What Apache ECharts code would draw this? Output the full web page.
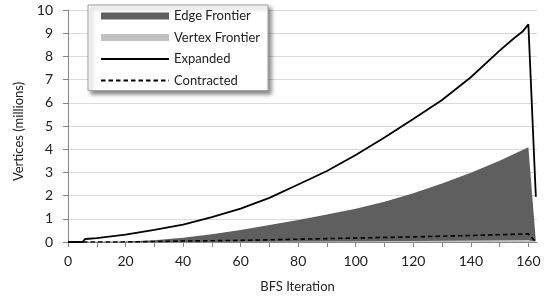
<!DOCTYPE html>
<html>
<head>
<meta charset="utf-8">
<script src="https://cdn.jsdelivr.net/npm/echarts@6/dist/echarts.min.js"></script>
<style>html,body{margin:0;padding:0;background:#fff}#c{width:550px;height:302px}</style>
</head>
<body>
<div id="c"></div>
<script>
// BFS iteration (x) and values in millions of vertices (y)
const edgeX = [0, 20, 30, 40, 50, 60, 70, 80, 90, 100, 110, 120, 130, 140, 150, 160, 162.6];
const edgeY = [0, 0.02, 0.08, 0.18, 0.33, 0.52, 0.73, 0.95, 1.18, 1.43, 1.74, 2.1, 2.52, 2.98, 3.5, 4.08, 0.03];

const vertexX = [0, 40, 60, 80, 100, 120, 140, 160, 162.6];
const vertexY = [0, 0, 0.01, 0.02, 0.03, 0.045, 0.065, 0.09, 0];

const expandedX = [0, 5, 6, 10, 20, 30, 40, 50, 60, 70, 80, 90, 100, 110, 120, 130, 140, 150, 155, 158, 160, 162.6];
const expandedY = [0, 0, 0.13, 0.17, 0.32, 0.52, 0.75, 1.07, 1.44, 1.9, 2.48, 3.06, 3.75, 4.5, 5.3, 6.12, 7.1, 8.25, 8.78, 9.07, 9.38, 1.95];

const contractedX = [0, 20, 40, 60, 80, 100, 120, 140, 160, 162.6];
const contractedY = [0, 0, 0.04, 0.07, 0.12, 0.17, 0.22, 0.28, 0.35, 0];

const xTickValues = [0, 10, 20, 30, 40, 50, 60, 70, 80, 90, 100, 110, 120, 130, 140, 150, 160];
const xLabelValues = [0, 20, 40, 60, 80, 100, 120, 140, 160];

const seriesNames = ['Edge Frontier', 'Vertex Frontier', 'Expanded', 'Contracted'];

function pairs(xs, ys) { return xs.map((x, i) => [x, ys[i]]); }

const FONT = 'Lato';
const hiddenSym = {color: 'rgba(0,0,0,0)', borderColor: 'rgba(0,0,0,0)', borderWidth: 0};
const chart = echarts.init(document.getElementById('c'), null, {renderer: 'canvas'});
chart.setOption({
  animation: false,
  backgroundColor: '#fff',
  textStyle: {fontFamily: FONT},
  grid: {left: 68, right: 13, top: 10, bottom: 60, containLabel: false},
  xAxis: {
    type: 'value', min: 0, max: 163,
    name: 'BFS Iteration', nameLocation: 'middle', nameGap: 38,
    nameTextStyle: {fontFamily: FONT, fontSize: 13, color: '#222', padding: [0, 10, 0, 0]},
    axisLine: {show: true, lineStyle: {color: '#868686', width: 1}},
    axisTick: {show: true, length: 5, lineStyle: {color: '#868686'}, customValues: xTickValues},
    axisLabel: {fontFamily: FONT, fontSize: 14, color: '#222', margin: 12, customValues: xLabelValues},
    splitLine: {show: false}
  },
  yAxis: {
    type: 'value', min: 0, max: 10, interval: 1,
    name: 'Vertices (millions)', nameLocation: 'middle', nameGap: 43,
    nameTextStyle: {fontFamily: FONT, fontSize: 13, color: '#222', padding: [0, 11, 0, 0]},
    axisLine: {show: true, lineStyle: {color: '#868686', width: 1}},
    axisTick: {show: true, length: 5, lineStyle: {color: '#868686'}},
    axisLabel: {fontFamily: FONT, fontSize: 14, color: '#222', margin: 15},
    splitLine: {show: true, lineStyle: {color: '#d9d9d9', width: 1}}
  },
  legend: {
    orient: 'vertical', left: 88, top: 5,
    padding: [4, 8, 3, 12],
    itemWidth: 68, itemHeight: 7, itemGap: 7.5,
    backgroundColor: '#fff', borderColor: '#a0a0a0', borderWidth: 1,
    shadowBlur: 4, shadowColor: 'rgba(0,0,0,0.45)', shadowOffsetX: 3, shadowOffsetY: 3,
    textStyle: {fontFamily: FONT, fontSize: 13, color: '#222', lineHeight: 14},
    itemTextGap: 7,
    data: [
      {name: seriesNames[0], icon: 'rect'},
      {name: seriesNames[1], icon: 'rect'},
      {name: seriesNames[2], itemStyle: hiddenSym},
      {name: seriesNames[3], itemStyle: hiddenSym}
    ]
  },
  series: [
    {
      name: seriesNames[0], type: 'line', data: pairs(edgeX, edgeY),
      symbol: 'none', lineStyle: {width: 0, color: '#5f5f5f'},
      itemStyle: {color: '#5f5f5f'},
      areaStyle: {color: '#5f5f5f', opacity: 1}, z: 1
    },
    {
      name: seriesNames[1], type: 'line', data: pairs(vertexX, vertexY),
      symbol: 'none', lineStyle: {width: 0, color: '#c0c0c0'},
      itemStyle: {color: '#c0c0c0'},
      areaStyle: {color: '#c0c0c0', opacity: 1}, z: 2
    },
    {
      name: seriesNames[2], type: 'line', data: pairs(expandedX, expandedY),
      symbol: 'none', lineStyle: {width: 1.8, color: '#000'},
      itemStyle: {color: '#000'}, z: 4
    },
    {
      name: seriesNames[3], type: 'line', data: pairs(contractedX, contractedY),
      symbol: 'none', lineStyle: {width: 1.6, color: '#000', type: [4.5, 3]},
      itemStyle: {color: '#000'}, z: 3
    }
  ]
});
</script>
</body>
</html>
